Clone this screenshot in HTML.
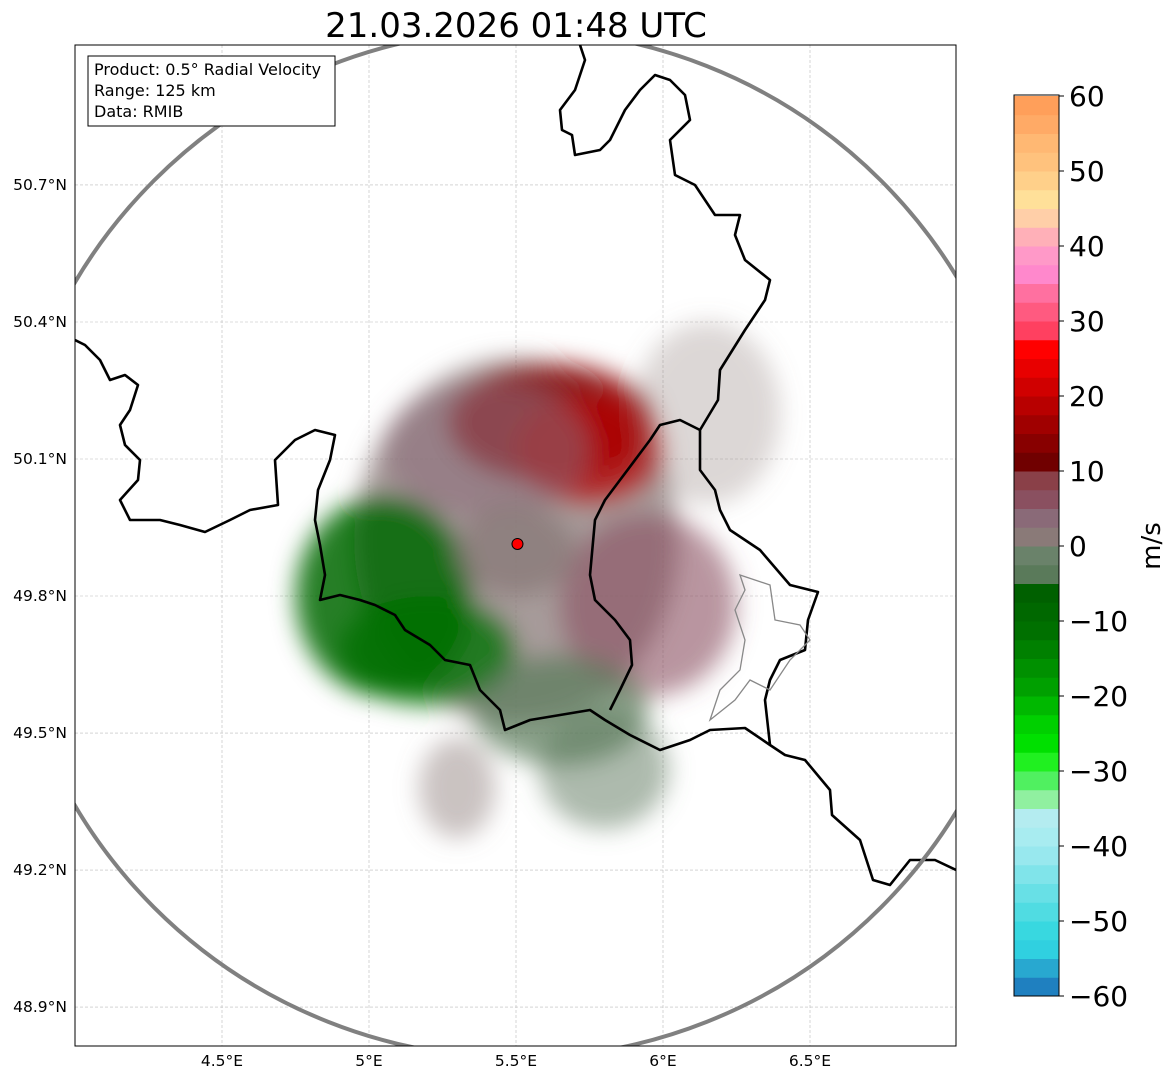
<!DOCTYPE html>
<html><head><meta charset="utf-8">
<style>
html,body{margin:0;padding:0;background:#fff;}
svg{display:block;font-family:"DejaVu Sans","Liberation Sans",sans-serif;}
</style></head>
<body>
<svg id="chart" width="1171" height="1081" viewBox="0 0 1171 1081">
<defs>
<clipPath id="plotclip"><rect x="75" y="45" width="881" height="1001"/></clipPath>
<filter id="blur" x="-20%" y="-20%" width="140%" height="140%"><feGaussianBlur stdDeviation="12"/></filter>
</defs>
<text x="516" y="37" font-size="34" text-anchor="middle">21.03.2026 01:48 UTC</text>
<g id="plot" clip-path="url(#plotclip)"></g>
<rect x="75" y="45" width="881" height="1001" fill="none" stroke="#000" stroke-width="1"/>
<g id="axes"></g>
<g>
<rect x="88" y="56" width="247" height="70" fill="#fff" stroke="#000" stroke-width="1"/>
<text x="94" y="75" font-size="16">Product: 0.5° Radial Velocity</text>
<text x="94" y="96" font-size="16">Range: 125 km</text>
<text x="94" y="117" font-size="16">Data: RMIB</text>
</g>
<g id="cbar"></g>
<text transform="translate(1160,546) rotate(-90)" font-size="26" text-anchor="middle">m/s</text>
</svg>
<script>
const lonTicks = [4.5, 5, 5.5, 6, 6.5];
const lonLabels = ["4.5°E","5°E","5.5°E","6°E","6.5°E"];
const latTicks = [50.7, 50.4, 50.1, 49.8, 49.5, 49.2, 48.9];
const latLabels = ["50.7°N","50.4°N","50.1°N","49.8°N","49.5°N","49.2°N","48.9°N"];
const cbarTicks = [60,50,40,30,20,10,0,-10,-20,-30,-40,-50,-60];
const cbarColors = ["#1f80c0","#28a8d0","#30d0e0","#38d8e0","#50dce2","#68e0e6","#80e4ea","#98e8ee","#a8ecf0","#b4ecf0","#90f0a0","#50f060","#20f020","#00e000","#00d000","#00b800","#00a000","#009000","#008000","#007000","#006800","#006000","#5a7a5a","#6a826a","#8a7a78","#8a6a78","#8a5060","#8a4048","#700000","#880000","#a00000","#b80000","#d00000","#e80000","#ff0000","#ff4060","#ff5a80","#ff70a0","#ff88cc","#ff99c8","#ffb0b8","#ffcfa8","#ffe099","#ffd08a","#ffc27d","#ffb873","#ffaa66","#ff9f5a"];
// echo regions
const echoLon = [5.5, 5.62, 5.75, 5.05, 5.2, 5.95, 5.8, 5.65, 5.4, 5.3, 6.15, 5.5];
const echoLat = [49.92, 50.18, 50.12, 49.8, 49.68, 49.78, 49.42, 49.55, 50.12, 49.38, 50.2, 49.9];
const echoRx  = [0.55, 0.35, 0.25, 0.3, 0.3, 0.3, 0.22, 0.3, 0.35, 0.13, 0.25, 0.2];
const echoRy  = [0.4, 0.13, 0.12, 0.22, 0.12, 0.2, 0.13, 0.12, 0.15, 0.11, 0.2, 0.1];
const echoVel = [1, 14, 18, -9, -12, 5, -2, -4, 3, 1, 2, 0];
const echoOpa = [0.75, 0.8, 0.7, 0.85, 0.8, 0.6, 0.55, 0.7, 0.55, 0.45, 0.3, 0.8];
const radarLon = 5.505, radarLat = 49.914;

const NS = "http://www.w3.org/2000/svg";
const x = lon => 369 + (lon - 5) * 294;
const y = lat => 459 - (lat - 50.1) * 456.7;
const cy = v => 546 - v * 7.5;
function colorFor(v){ let i = Math.floor((v + 60) / 2.5); i = Math.max(0, Math.min(cbarColors.length - 1, i)); return cbarColors[i]; }
function mk(tag, attrs, parent){ const e = document.createElementNS(NS, tag); for (const k in attrs) e.setAttribute(k, attrs[k]); parent.appendChild(e); return e; }

const plot = document.getElementById('plot');
const axes = document.getElementById('axes');
lonTicks.forEach((t, i) => {
  const l = mk('line', {x1: x(t), x2: x(t), y1: 45, y2: 1046, stroke: '#bbb', 'stroke-width': 0.6, 'stroke-dasharray': '3,2'}, plot);
  
  
  const tx = mk('text', {x: x(t), y: 1066, 'font-size': 15.5, 'text-anchor': 'middle'}, axes);
  tx.textContent = lonLabels[i];
  
  
});
latTicks.forEach((t, i) => {
  const l = mk('line', {x1: 75, x2: 956, y1: y(t), y2: y(t), stroke: '#bbb', 'stroke-width': 0.6, 'stroke-dasharray': '3,2'}, plot);
  
  
  const tx = mk('text', {x: 67, y: y(t) + 5, 'font-size': 15.5, 'text-anchor': 'end'}, axes);
  tx.textContent = latLabels[i];
  
  
});
const eg = mk('g', {filter: 'url(#blur)'}, plot);


echoLon.forEach((lon, i) => {
  const e = mk('ellipse', {cx: x(lon), cy: y(echoLat[i]), rx: echoRx[i] * 294, ry: echoRy[i] * 456.7, fill: colorFor(echoVel[i]), 'fill-opacity': echoOpa[i]}, eg);
  
  
});
const borders = [
 "M580,45 L585,60 575,90 560,110 562,130 572,135 575,155 600,150 610,140 625,110 640,90 655,75 670,80 685,95 690,120 670,140 675,175 695,185 715,215 740,215 735,235 745,260 770,280 765,300 745,330 720,370 718,400 700,430 700,470 715,490 720,510 730,530 760,550 790,585 818,592 808,620 805,650 780,660 770,680 765,700 770,745 785,755 805,760 830,790 832,815 860,840 873,880 890,885 910,860 935,860 956,870",
 "M75,340 L85,345 100,360 110,380 125,375 138,385 130,410 120,425 125,445 140,460 138,480 120,500 130,520 160,520 180,525 205,532 230,520 250,510 278,505 275,460 295,440 315,430 335,435 330,460 318,490 315,520 320,545 325,575 320,600 340,595 360,600 375,605 395,615 405,630 430,645 445,660 470,665 480,690 500,710 505,730 530,720 560,715 590,710 605,720 630,735 660,750 690,740 710,730 745,728 770,745",
 "M700,430 L680,420 660,425 650,440 635,460 620,480 605,500 595,520 590,575 595,600 615,620 630,640 632,665 620,690 610,710"
];
borders.forEach(d => {
  const p = mk('path', {d: d, fill: 'none', stroke: '#000', 'stroke-width': 2.6, 'stroke-linejoin': 'round'}, plot);
  
  
});
const gp = mk('path', {d: "M740,575 L770,585 775,620 800,625 810,640 790,660 770,690 750,680 735,700 710,720 720,690 740,670 745,640 735,610 745,590 Z", fill: 'none', stroke: '#888', 'stroke-width': 1.3}, plot);


const ring = mk('circle', {cx: x(radarLon), cy: y(radarLat), r: 514, fill: 'none', stroke: '#808080', 'stroke-width': 4}, plot);


const site = mk('circle', {cx: x(radarLon), cy: y(radarLat), r: 5.5, fill: '#ff0000', stroke: '#000', 'stroke-width': 1}, plot);


const cb = document.getElementById('cbar');
cbarColors.forEach((c, i) => {
  const v0 = -60 + i * 2.5;
  const r = mk('rect', {x: 1014, y: cy(v0 + 2.5), width: 45, height: 7.5 * 2.5 + 0.5, fill: c}, cb);
  
  
});
mk('rect', {x: 1014, y: 95, width: 45, height: 901, fill: 'none', stroke: '#000', 'stroke-width': 1}, cb);
cbarTicks.forEach(t => {
  mk('line', {x1: 1059, x2: 1064, y1: cy(t), y2: cy(t), stroke: '#000', 'stroke-width': 1}, cb);
  const tx = mk('text', {x: 1069, y: cy(t) + 10, 'font-size': 28}, cb);
  tx.textContent = t < 0 ? '\u2212' + Math.abs(t) : String(t);
  
  
});
</script>
</body></html>
